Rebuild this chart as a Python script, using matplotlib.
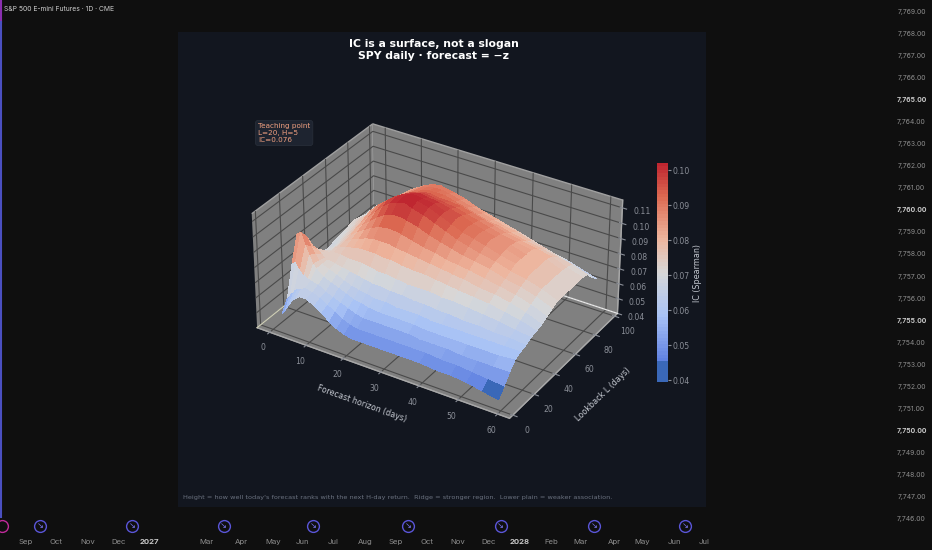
import datetime as dt
import numpy as np
import matplotlib
matplotlib.use("Agg")
import matplotlib.pyplot as plt
import matplotlib.dates as mdates
from matplotlib.colors import LinearSegmentedColormap, Normalize
from matplotlib.cm import ScalarMappable

# surface
horizons = [1, 2, 3, 4, 5, 6, 8, 10, 12, 14, 16, 18, 20, 23, 26, 29, 32, 35, 38, 42, 46, 50, 54, 58]
lookbacks = [5, 10, 15, 20, 25, 30, 35, 40, 45, 50, 55, 60, 65, 70, 75, 80, 85, 90, 95, 100]
ic_l5 = [.048, .052, .056, .060, .062, .064, .064, .061, .058, .054, .051, .049, .048, .048, .048, .048, .048, .048, .048, .047, .047, .046, .044, .042]
ic_l10 = [.056, .060, .062, .064, .065, .066, .065, .063, .060, .057, .054, .052, .051, .051, .051, .051, .051, .051, .051, .050, .050, .049, .048, .047]
ic_l15 = [.076, .078, .074, .071, .069, .068, .067, .064, .062, .060, .058, .056, .055, .055, .055, .055, .055, .054, .054, .054, .053, .053, .053, .053]
ic_l20 = [.092, .094, .087, .081, .076, .073, .069, .067, .065, .063, .061, .060, .059, .058, .058, .058, .058, .057, .057, .057, .057, .057, .057, .058]
ic_l25 = [.085, .088, .083, .079, .075, .073, .071, .069, .067, .065, .064, .063, .062, .062, .061, .061, .061, .060, .060, .060, .060, .060, .060, .060]
ic_l30 = [.076, .079, .078, .076, .074, .073, .072, .071, .070, .069, .068, .067, .067, .066, .066, .065, .065, .064, .064, .063, .063, .062, .062, .061]
ic_l35 = [.071, .073, .074, .074, .074, .075, .075, .074, .074, .074, .073, .072, .072, .071, .070, .070, .070, .069, .069, .068, .067, .066, .064, .063]
ic_l40 = [.068, .070, .071, .072, .074, .075, .077, .078, .079, .079, .079, .078, .078, .077, .076, .076, .075, .074, .073, .072, .071, .069, .067, .064]
ic_l45 = [.067, .069, .070, .072, .074, .076, .079, .081, .083, .084, .084, .084, .083, .082, .081, .080, .079, .078, .077, .075, .074, .072, .069, .065]
ic_l50 = [.068, .069, .071, .073, .075, .077, .081, .084, .087, .089, .090, .090, .089, .087, .085, .084, .082, .081, .080, .078, .076, .074, .071, .067]
ic_l55 = [.069, .070, .072, .074, .076, .079, .083, .087, .091, .094, .096, .096, .095, .093, .090, .088, .086, .084, .083, .081, .078, .076, .073, .069]
ic_l60 = [.070, .071, .073, .075, .077, .080, .085, .090, .095, .099, .101, .102, .100, .098, .095, .092, .089, .087, .085, .083, .080, .078, .075, .071]
ic_l65 = [.071, .072, .074, .076, .078, .082, .087, .092, .097, .100, .102, .103, .102, .100, .097, .094, .091, .089, .087, .084, .082, .079, .075, .071]
ic_l70 = [.072, .073, .075, .077, .079, .083, .088, .092, .096, .099, .101, .102, .101, .100, .097, .095, .092, .090, .088, .085, .082, .079, .075, .071]
ic_l75 = [.071, .072, .074, .076, .079, .082, .086, .090, .094, .097, .099, .100, .099, .098, .096, .094, .091, .089, .087, .085, .082, .079, .075, .071]
ic_l80 = [.070, .071, .073, .075, .077, .080, .085, .089, .092, .095, .096, .097, .096, .095, .094, .092, .090, .088, .086, .084, .082, .079, .075, .071]
ic_l85 = [.070, .071, .073, .075, .077, .079, .083, .087, .090, .092, .094, .094, .093, .093, .092, .090, .088, .086, .084, .082, .080, .078, .074, .071]
ic_l90 = [.070, .071, .073, .075, .077, .079, .083, .086, .089, .091, .092, .092, .092, .090, .088, .086, .084, .083, .081, .079, .077, .075, .073, .070]
ic_l95 = [.069, .070, .072, .074, .076, .078, .082, .085, .088, .090, .091, .091, .090, .088, .086, .084, .082, .080, .079, .076, .074, .071, .068, .065]
ic_l100 = [.068, .069, .071, .073, .075, .077, .081, .084, .087, .089, .090, .089, .088, .086, .083, .081, .079, .077, .075, .072, .069, .067, .064, .061]

z_ticks = [0.04, 0.05, 0.06, 0.07, 0.08, 0.09, 0.10, 0.11]
cbar_ticks = [0.04, 0.05, 0.06, 0.07, 0.08, 0.09, 0.10]
h_ticks = [0, 10, 20, 30, 40, 50, 60]
l_ticks = [0, 20, 40, 60, 80, 100]

# chart chrome behind the panel
prices = list(range(7769, 7745, -1))
bold_prices = [7765, 7760, 7755, 7750]
month_labels = ["Sep", "Oct", "Nov", "Dec", "2027", "Mar", "Apr", "May", "Jun", "Jul", "Aug",
                "Sep", "Oct", "Nov", "Dec", "2028", "Feb", "Mar", "Apr", "May", "Jun", "Jul"]
month_dates = [dt.date(2026, 9, 1), dt.date(2026, 10, 1), dt.date(2026, 11, 1), dt.date(2026, 12, 1),
               dt.date(2027, 1, 1), dt.date(2027, 2, 26), dt.date(2027, 4, 1), dt.date(2027, 5, 3),
               dt.date(2027, 6, 1), dt.date(2027, 7, 1), dt.date(2027, 8, 1), dt.date(2027, 9, 1),
               dt.date(2027, 10, 1), dt.date(2027, 11, 1), dt.date(2027, 12, 1), dt.date(2028, 1, 1),
               dt.date(2028, 2, 1), dt.date(2028, 3, 1), dt.date(2028, 4, 3), dt.date(2028, 5, 1),
               dt.date(2028, 6, 1), dt.date(2028, 7, 1)]
rollover_dates = [dt.date(2026, 9, 15), dt.date(2026, 12, 15), dt.date(2027, 3, 15), dt.date(2027, 6, 11),
                  dt.date(2027, 9, 13), dt.date(2027, 12, 13), dt.date(2028, 3, 14), dt.date(2028, 6, 12)]
dividend_dates = [dt.date(2026, 8, 8)]

BG = "#0f0f0f"
PANEL = "#12161f"
TICK = "#8b8f98"
LABEL = "#c4c8d0"

fig = plt.figure(figsize=(9.32, 5.5), dpi=100, facecolor=BG)

# overlay in date / price units
chrome = fig.add_axes([0, 0, 1, 1], facecolor=BG)
x0 = mdates.date2num(dt.date(2026, 9, 1)) - 26 / 1.014
chrome.set_xlim(x0, x0 + 932 / 1.014)
chrome.set_ylim(7746 - 31 / 22.04, 7769 + 12 / 22.04)
chrome.axis("off")

for p in prices:
    chrome.text(0.978, p, f"{p:,.2f}", transform=chrome.get_yaxis_transform(), ha="center",
                va="center", fontsize=4.9, family="Inter", color="#c8c8c8" if p in bold_prices else "#8e8e8e",
                fontweight="bold" if p in bold_prices else "normal")
for lab, d in zip(month_labels, month_dates):
    is_year = lab.isdigit()
    chrome.text(mdates.date2num(d), 0.0145, lab, transform=chrome.get_xaxis_transform(), ha="center", va="center",
                fontsize=5.6, family="Inter", color="#c8c8c8" if is_year else "#8e8e8e",
                fontweight="bold" if is_year else "normal")
for d in rollover_dates:
    chrome.plot(mdates.date2num(d), 0.0436, "o", ms=8.5, mfc=BG, mec="#5a55d8", mew=1, transform=chrome.get_xaxis_transform())
    chrome.text(mdates.date2num(d), 0.0436, "↘", transform=chrome.get_xaxis_transform(), ha="center", va="center",
                fontsize=6, color="#7a76f0")
for d in dividend_dates:
    chrome.plot(mdates.date2num(d), 0.0436, "o", ms=8.5, mfc=BG, mec="#c02a9a", mew=1, transform=chrome.get_xaxis_transform())
chrome.plot([0.0015, 0.0015], [0.96, 1], color="#8a2fb0", lw=1.5, transform=chrome.transAxes)
chrome.plot([0.0015, 0.0015], [0.06, 0.96], color="#4a4fc0", lw=1.5, transform=chrome.transAxes)
chrome.text(4 / 932, 1 - 9 / 550, "S&P 500 E-mini Futures · 1D · CME", transform=chrome.transAxes, ha="left", va="center",
            fontsize=4.85, family="Inter", color="#d0d0d0")

# dark panel
panel = fig.add_axes([178 / 932, 1 - 507 / 550, 528 / 932, 475 / 550], facecolor=PANEL)
panel.set_xticks([])
panel.set_yticks([])
for s in panel.spines.values():
    s.set_visible(False)

# lowest band of the colorbar is a darker step
cmap = LinearSegmentedColormap.from_list("ic", [(0, "#3a68b8"), (0.08, "#3a68b8"), (0.08, "#5b7de0"), (0.3, "#a9c3f5"),
                                                (0.5, "#d8d8d8"), (0.66, "#eeb49c"), (0.85, "#dc6a52"), (1, "#bf2630")], N=64)
norm = Normalize(0.0395, 0.102)

ax = fig.add_axes([0.1235, 0.098, 0.68, 0.82], projection="3d", facecolor="none")
ax.set_box_aspect((1.37, 1.0, 0.62), zoom=0.84)
ax.view_init(elev=32, azim=-58)

X, Y = np.meshgrid(horizons, lookbacks)
Z = np.array([ic_l5, ic_l10, ic_l15, ic_l20, ic_l25, ic_l30, ic_l35, ic_l40, ic_l45, ic_l50, ic_l55, ic_l60,
              ic_l65, ic_l70, ic_l75, ic_l80, ic_l85, ic_l90, ic_l95, ic_l100])
ax.plot_surface(X, Y, Z, cmap=cmap, norm=norm, rstride=1, cstride=1, linewidth=0, antialiased=False, shade=False)

ax.set_xlim(-3.5, 63)
ax.set_ylim(-3, 103)
ax.set_zlim(0.04, 0.115)
ax.set_xticks(h_ticks)
ax.set_yticks(l_ticks)
ax.set_zticks(z_ticks)
ax.set_zticklabels([f"{v:.2f}" for v in z_ticks])
ax.tick_params(colors=TICK, labelsize=5.6, pad=1)
for axis in (ax.xaxis, ax.yaxis, ax.zaxis):
    axis.set_pane_color("#808080")
    axis.pane.set_edgecolor("#a0a0a0")
    axis._axinfo["grid"]["color"] = "#4a4a4a"
    axis._axinfo["grid"]["linewidth"] = 0.8
    axis._axinfo["tick"]["color"] = TICK
    axis.line.set_color("#a8a8a8")
ax.set_xlabel("Forecast horizon (days)", color=LABEL, fontsize=5.8, labelpad=4)
ax.set_ylabel("Lookback L (days)", color=LABEL, fontsize=5.8, labelpad=4)

# pale floor edges along the back walls
ax.plot([-3.5, -3.5], [-3, 103], [0.04, 0.04], color="#cfcfb8", lw=0.9, zorder=0)
ax.plot([-3.5, 63], [103, 103], [0.04, 0.04], color="#e8e8e8", lw=0.9, zorder=0)

# colorbar
cax = fig.add_axes([657 / 932, 1 - 382 / 550, 11 / 932, 219 / 550])
cb = fig.colorbar(ScalarMappable(norm=norm, cmap=cmap), cax=cax, ticks=cbar_ticks)
cb.outline.set_visible(False)
cb.ax.set_yticklabels([f"{v:.2f}" for v in cbar_ticks])
cb.ax.tick_params(colors=TICK, labelsize=5.6, length=2, pad=1.5)
cb.set_label("IC (Spearman)", color=LABEL, fontsize=5.8, labelpad=2)

fig.text(434 / 932, 1 - 50 / 550, "IC is a surface, not a slogan\nSPY daily · forecast = −z", ha="center", va="center",
         color="white", fontsize=7.8, fontweight="bold", linespacing=1.3)
fig.text(258 / 932, 1 - 133 / 550, "Teaching point\nL=20, H=5\nIC=0.076", ha="left", va="center", color="#f0a080", fontsize=5.2,
         bbox=dict(boxstyle="round,pad=0.35", fc="#1e2430", ec="#272d38", lw=0.6))
fig.text(183 / 932, 1 - 497 / 550, "Height = how well today's forecast ranks with the next H-day return.  Ridge = stronger region.  Lower plain = weaker association.",
         ha="left", va="center", color="#6b7280", fontsize=4.65)

fig.savefig("out.png", dpi=100, facecolor=BG)
